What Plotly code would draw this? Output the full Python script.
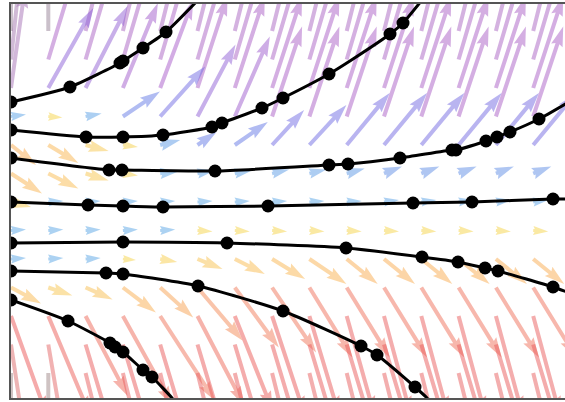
import numpy as np
import plotly.graph_objects as go

# grid of the vector field (axis units)
COL_X = [0.0, 37.3, 74.6, 111.9, 149.2, 186.5, 223.8, 261.1, 298.4, 335.7, 373.0, 410.3, 447.6, 484.9, 522.2]
ROW_Y = [171.0, 142.5, 114.0, 85.5, 57.0, 28.5, 0.0, -28.5, -57.0, -85.5, -114.0, -142.5, -171.0]

# horizontal component of each arrow (rows top -> bottom, columns left -> right)
U = [
    [0, 0, 25, 25, 25, 25, 25, 25, 25, 25, 25, 25, 25, 25, 25],
    [10, 28, 28, 28, 28, 28, 28, 28, 28, 28, 28, 28, 28, 28, 28],
    [14, 45, 42, 35, 33, 30, 30, 30, 30, 30, 30, 30, 30, 30, 30],
    [15, 14, 16, 37, 45, 38, 35, 30, 30, 30, 30, 30, 30, 30, 30],
    [25, 30, 23, 15, 20, 19, 33, 32, 37, 43, 43, 43, 43, 43, 43],
    [31, 30, 23, 15, 18, 17, 17, 17, 17, 18, 18, 18, 18, 18, 18],
    [20, 15, 15, 15, 15, 15, 15, 15, 15, 15, 15, 15, 15, 15, 15],
    [15, 15, 15, 15, 15, 15, 15, 15, 15, 15, 15, 15, 15, 15, 15],
    [15, 15, 15, 13, 17, 25, 30, 33, 37, 31, 31, 31, 31, 31, 31],
    [30, 24, 27, 33, 33, 45, 44, 44, 43, 43, 43, 43, 43, 43, 43],
    [36, 42, 42, 50, 55, 47, 38, 33, 30, 28, 27, 27, 27, 27, 27],
    [15, 17, 30, 30, 30, 30, 30, 30, 30, 30, 30, 30, 30, 30, 30],
    [0, 0, 25, 25, 25, 25, 25, 25, 25, 25, 25, 25, 25, 25, 25],
]
# vertical component of each arrow
V = [
    [70, 70, 100, 100, 100, 100, 100, 100, 100, 100, 100, 100, 100, 100, 100],
    [95, 92, 95, 95, 95, 95, 95, 95, 95, 95, 95, 95, 95, 95, 95],
    [100, 80, 82, 85, 88, 92, 92, 92, 92, 92, 92, 92, 92, 92, 92],
    [2, -1, 3, 25, 50, 72, 80, 90, 90, 90, 90, 90, 90, 90, 90],
    [-20, -18, -6, -2, 5, 13, 23, 35, 40, 52, 52, 52, 52, 52, 52],
    [-20, -15, -7, -2, 2, 3, 3, 4, 4, 5, 7, 7, 7, 7, 7],
    [-5, 1, 1, 1, 1, 1, 1, 1, 1, 1, 2, 2, 2, 2, 2],
    [1, 1, 1, 1, 1, -1, -1, -1, -1, -1, -1, -1, -1, -1, -1],
    [1, 1, 1, -1, -3, -10, -15, -20, -25, -25, -25, -25, -25, -25, -25],
    [-16, -8, -12, -25, -30, -53, -60, -65, -70, -70, -70, -70, -70, -70, -70],
    [-100, -100, -80, -90, -85, -90, -95, -100, -100, -100, -100, -100, -100, -100, -100],
    [-100, -100, -100, -100, -100, -100, -100, -100, -100, -100, -100, -100, -100, -100, -100],
    [-70, -70, -100, -100, -100, -100, -100, -100, -100, -100, -100, -100, -100, -100, -100],
]

# trajectories: path points and sampled points (axis units)
TRAJ_X = [
    [0, 59, 109, 112, 132, 155, 187],
    [0, 75, 112, 152, 201, 211, 251, 272, 318, 342, 379, 392, 411],
    [0, 98, 111, 204, 318, 337, 389, 441, 445, 475, 486, 499, 528, 556],
    [0, 77, 112, 152, 257, 402, 461, 542, 556],
    [0, 112, 216, 335, 411, 447, 474, 487, 542, 556],
    [0, 95, 112, 187, 272, 350, 366, 404, 416, 421],
    [0, 57, 99, 104, 112, 132, 141, 161, 164],
]
TRAJ_Y = [
    [100, 115, 139, 141, 154, 170, 202],
    [72, 65, 65, 67, 75, 79, 94, 104, 128, 143, 168, 179, 202],
    [44, 32, 32, 31, 37, 38, 44, 52, 52, 61, 65, 70, 83, 99],
    [0, -3, -4, -5, -4, -1, 0, 3, 3],
    [-41, -40, -41, -46, -55, -60, -66, -69, -85, -90],
    [-69, -71, -72, -84, -109, -144, -153, -185, -196, -203],
    [-98, -119, -141, -145, -150, -168, -175, -196, -200],
]
# which path points carry a dot
DOT_IDX = [
    [0, 1, 2, 3, 4, 5],
    [0, 1, 2, 3, 4, 5, 6, 7, 8, 10, 11],
    [0, 1, 2, 3, 4, 5, 6, 7, 8, 9, 10, 11, 12],
    [0, 1, 2, 3, 4, 5, 6, 7],
    [0, 1, 2, 3, 4, 5, 6, 7, 8],
    [0, 1, 2, 3, 4, 5, 6, 7],
    [0, 1, 2, 3, 4, 5, 6],
]

X_RANGE = [0, 554]
Y_RANGE = [-196, 198]

# arrow style (matplotlib-quiver-like)
SHAFT = 4.0
HEAD_LEN = 20.0
HEAD_AX = 18.0
HEAD_W = 12.0
ALPHA = 0.5

ANG = [-90, -80, -70, -55, -40, -20, -0.01, 0.01, 10, 35, 55, 70, 80, 90]
COLS = [(160, 135, 135), (230, 100, 100), (235, 85, 85), (240, 120, 90), (250, 170, 80), (248, 195, 80),
        (245, 215, 70), (90, 170, 230), (90, 160, 230), (100, 120, 230), (120, 100, 225), (170, 90, 200),
        (170, 110, 190), (150, 130, 150)]


def color_for(dx, dy):
    a = np.degrees(np.arctan2(dy, dx))
    rgb = [int(round(np.interp(a, ANG, [c[i] for c in COLS]))) for i in range(3)]
    return f"rgba({rgb[0]},{rgb[1]},{rgb[2]},{ALPHA})"


def arrow_poly(x0, y0, dx, dy):
    L = float(np.hypot(dx, dy))
    s, Ld = 1.0, L
    if L < HEAD_LEN:
        s, Ld = L / HEAD_LEN, HEAD_LEN
    pts = [(0, -SHAFT / 2), (Ld - HEAD_AX, -SHAFT / 2), (Ld - HEAD_LEN, -HEAD_W / 2), (Ld, 0),
           (Ld - HEAD_LEN, HEAD_W / 2), (Ld - HEAD_AX, SHAFT / 2), (0, SHAFT / 2), (0, -SHAFT / 2)]
    c, sn = dx / L, dy / L
    xs = [x0 + s * (a * c - b * sn) for a, b in pts]
    ys = [y0 + s * (a * sn + b * c) for a, b in pts]
    return xs, ys


fig = go.Figure()
for r, y0 in enumerate(ROW_Y):
    for c, x0 in enumerate(COL_X):
        dx, dy = U[r][c], V[r][c]
        if dx == 0 and dy == 0:
            continue
        xs, ys = arrow_poly(x0, y0, dx, dy)
        fig.add_trace(go.Scatter(x=xs, y=ys, mode="lines", fill="toself",
                                 fillcolor=color_for(dx, dy), line=dict(width=0),
                                 hoverinfo="skip", showlegend=False))

for tx, ty, di in zip(TRAJ_X, TRAJ_Y, DOT_IDX):
    fig.add_trace(go.Scatter(x=tx, y=ty, mode="lines", line=dict(color="black", width=3, shape="spline", smoothing=0.6),
                             hoverinfo="skip", showlegend=False))
    fig.add_trace(go.Scatter(x=[tx[i] for i in di], y=[ty[i] for i in di], mode="markers",
                             marker=dict(color="black", size=13), hoverinfo="skip", showlegend=False))

fig.update_layout(
    width=565, height=402,
    margin=dict(l=11, r=0, t=4, b=4),
    paper_bgcolor="white", plot_bgcolor="white",
    showlegend=False,
)
fig.update_xaxes(range=X_RANGE, showgrid=False, zeroline=False, showticklabels=False, ticks="",
                 showline=True, mirror=True, linecolor="#555555", linewidth=1.5)
fig.update_yaxes(range=Y_RANGE, showgrid=False, zeroline=False, showticklabels=False, ticks="",
                 showline=True, mirror=False, linecolor="#555555", linewidth=1.5)

fig.write_html("out.html", config={"displayModeBar": False},
               post_script="document.body.style.margin='0px';document.body.style.overflow='hidden';")
